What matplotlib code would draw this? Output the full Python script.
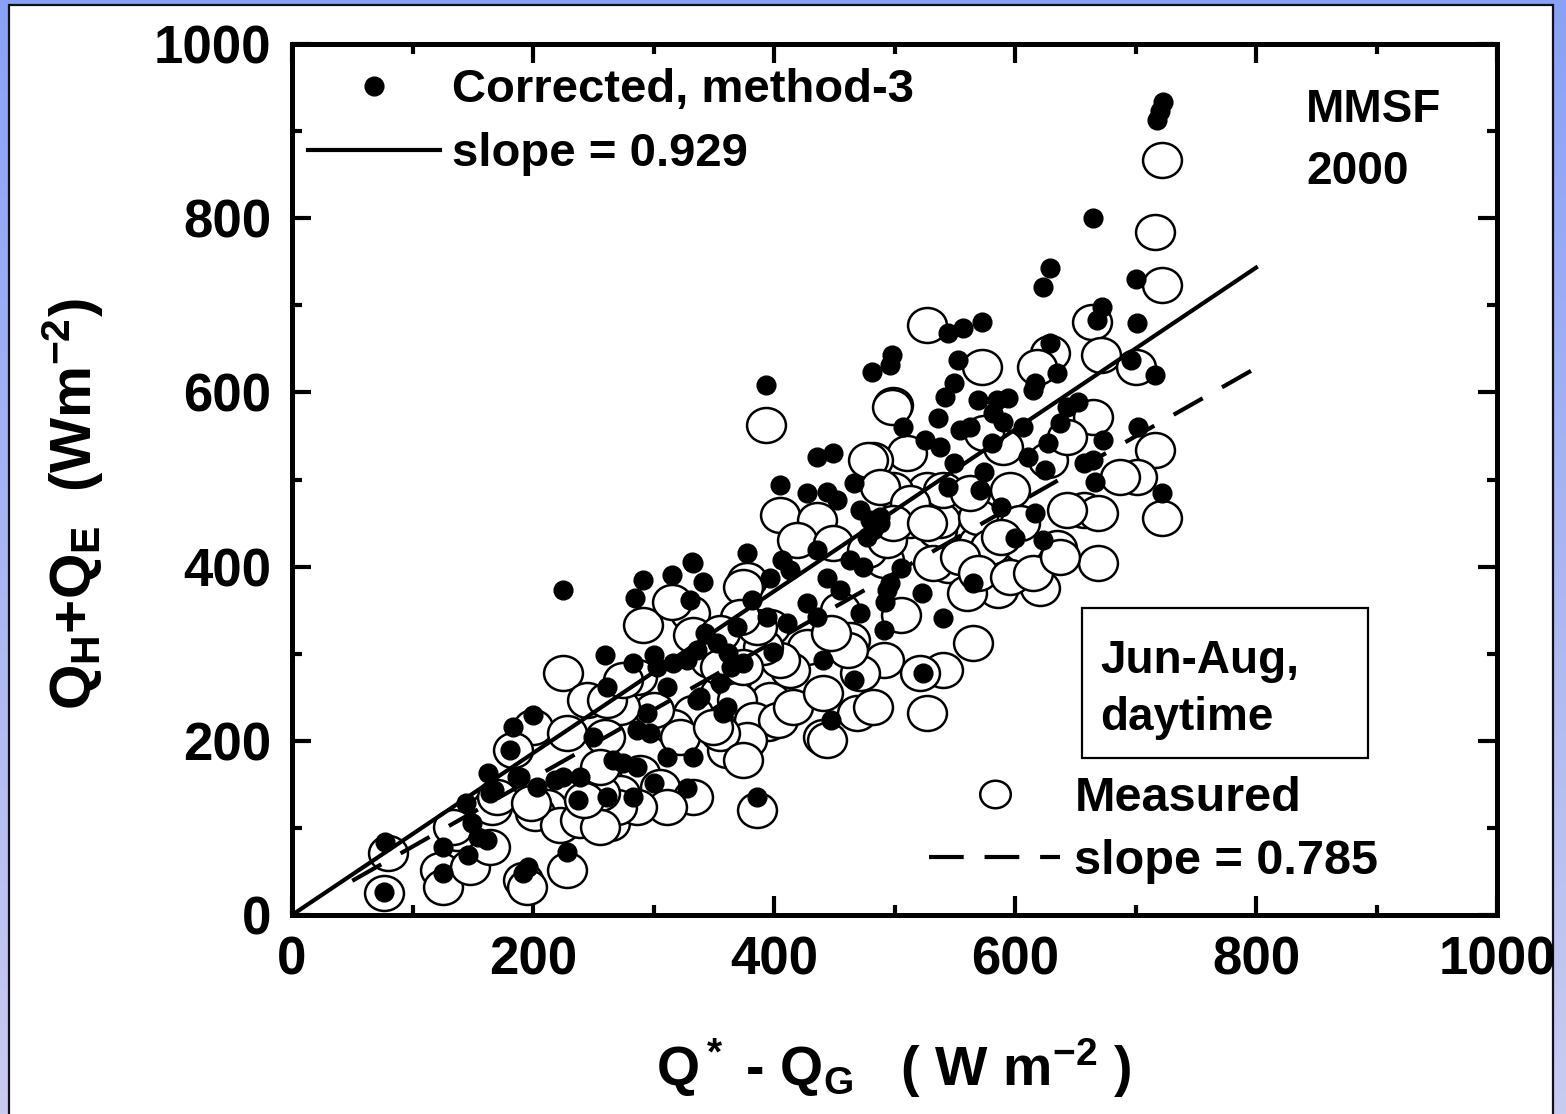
import numpy as np
import matplotlib
matplotlib.use("Agg")
import matplotlib.pyplot as plt
from matplotlib.path import Path
from matplotlib.transforms import Affine2D
from matplotlib.lines import Line2D
from matplotlib.patches import Rectangle

plt.rcParams['font.family'] = ['Liberation Sans', 'DejaVu Sans']
plt.rcParams['font.weight'] = 'bold'
plt.rcParams['mathtext.fontset'] = 'custom'
plt.rcParams['mathtext.rm'] = 'Liberation Sans:bold'
plt.rcParams['mathtext.bf'] = 'Liberation Sans:bold'
plt.rcParams['mathtext.it'] = 'Liberation Sans:bold'
plt.rcParams['lines.scale_dashes'] = False

# corrected (method-3) points, W m-2
corr_x = [723, 718, 720, 665, 629, 623, 700, 672, 668, 701,
          544, 557, 573, 629, 635, 617, 696, 716, 481, 498,
          496, 553, 507, 549, 542, 536, 525, 538, 569, 585,
          594, 582, 590, 554, 563, 549, 581, 607, 627, 611,
          643, 652, 637, 673, 702, 722, 665, 657, 666, 625,
          574, 571, 588, 617, 600, 623, 565, 544, 480, 488,
          477, 505, 496, 492, 523, 540, 615,
          393, 436, 449, 405, 427, 444, 452, 466, 471, 482,
          488, 378, 333, 341, 330, 407, 413, 436, 463, 474,
          397, 444, 455, 494, 382, 394, 427, 411, 436, 471,
          491, 524, 447, 441, 466, 364, 355, 339, 358, 328,
          336, 369, 353, 343,
          225, 260, 291, 285, 315, 332, 399, 183, 200, 181,
          261, 283, 300, 303, 316, 362, 374, 311, 336, 361,
          295, 286, 297, 311, 333, 300, 283, 328, 386,
          250, 266, 275, 286, 225, 239, 218, 203, 189, 163,
          164, 237, 261,
          77, 76, 125, 125, 144, 146, 149, 154, 162, 168,
          187, 228, 192, 196]
corr_y = [933, 913, 923, 800, 743, 721, 730, 698, 683, 680,
          668, 674, 681, 657, 622, 611, 637, 620, 623, 643,
          631, 637, 560, 611, 595, 571, 545, 537, 591, 591,
          594, 576, 566, 557, 560, 519, 542, 560, 542, 526,
          583, 589, 565, 545, 560, 484, 522, 519, 497, 511,
          509, 488, 468, 461, 433, 431, 381, 491, 453, 450,
          434, 398, 381, 359, 370, 341, 603,
          608, 526, 530, 494, 484, 486, 476, 496, 465, 442,
          457, 416, 404, 382, 362, 408, 396, 419, 408, 400,
          387, 387, 373, 373, 362, 342, 358, 335, 342, 347,
          327, 278, 224, 293, 270, 285, 266, 250, 232, 293,
          304, 331, 312, 324,
          373, 298, 385, 364, 390, 405, 302, 216, 230, 189,
          262, 289, 298, 285, 289, 301, 289, 262, 247, 239,
          232, 212, 209, 181, 181, 152, 135, 146, 135,
          204, 178, 174, 170, 158, 158, 155, 147, 158, 163,
          140, 132, 135,
          84, 26, 78, 48, 129, 69, 106, 90, 86, 143,
          158, 72, 48, 55]

# measured points, W m-2
meas_x = [722, 716, 722, 664, 573, 629, 618, 671, 700, 716,
          701, 722, 665, 657, 669, 669, 621, 586, 610, 635,
          527, 499, 510, 482, 596, 535, 544, 569, 527, 499,
          505, 607, 627, 643, 560,
          393, 498, 405, 436, 478, 419, 378, 491, 397, 427,
          491, 540, 565, 527, 469, 441, 397, 413, 355, 330,
          374, 455, 463,
          225, 291, 315, 333, 395, 361, 361, 333, 316, 300,
          286, 272, 260, 200, 183, 289, 305, 333, 386, 272,
          212,
          80, 76, 123, 125, 148, 164, 137, 166, 202, 222,
          239, 264, 192, 195, 228,
          449, 477, 494, 538, 569, 579, 560, 532, 513, 521,
          471, 461, 447, 405, 391, 386, 372, 355, 347, 364,
          369, 383, 403, 416, 441, 444, 482, 378, 355,
          355, 374, 322, 349, 374, 311, 286, 270, 256, 228,
          245, 261, 275, 170, 198, 134, 256, 256, 242,
          540, 563, 604, 588, 643, 687, 590, 574, 488, 513,
          499, 527, 554, 569, 596, 615, 637]
meas_y = [867, 784, 723, 681, 629, 645, 629, 643, 629, 534,
          503, 456, 572, 465, 461, 404, 375, 373, 416, 421,
          677, 585, 530, 522, 488, 442, 402, 427, 488, 488,
          344, 425, 522, 549, 480,
          563, 583, 459, 453, 522, 430, 385, 408, 331, 308,
          293, 281, 312, 232, 232, 204, 247, 281, 255, 347,
          377, 350, 316,
          278, 333, 359, 321, 220, 224, 189, 232, 216, 235,
          273, 239, 204, 216, 189, 163, 147, 135, 121, 140,
          124,
          71, 25, 52, 32, 55, 78, 94, 124, 117, 103,
          109, 106, 40, 32, 52,
          427, 419, 430, 453, 457, 422, 370, 404, 453, 278,
          278, 304, 324, 293, 308, 331, 342, 324, 293, 270,
          247, 224, 224, 239, 255, 201, 239, 201, 209,
          285, 285, 204, 216, 178, 124, 124, 124, 140, 209,
          247, 247, 270, 135, 129, 101, 101, 170, 132,
          488, 484, 450, 434, 465, 503, 537, 553, 491, 473,
          450, 450, 411, 393, 388, 393, 411]

fit_x = [0, 800]
slope_corr = 0.929
fit_meas_x = [50, 800]
slope_meas = 0.785

W, H = 1566, 1114
fig = plt.figure(figsize=(W / 100, H / 100), dpi=100)

# blue gradient frame around a white panel
bg = fig.add_axes([0, 0, 1, 1])
grad = np.linspace(0, 1, 256).reshape(-1, 1)
bg_cmap = matplotlib.colors.LinearSegmentedColormap.from_list('fr', ['#8aa2f6', '#c9cbf0'])
bg.imshow(grad, aspect='auto', cmap=bg_cmap, extent=[0, 1, 0, 1], origin='upper')
bg.add_patch(Rectangle((9 / W, -0.01), (1553 - 9) / W, (1108 + 12) / H,
                       facecolor='white', edgecolor='#101020', lw=1.6))
bg.set_xlim(0, 1)
bg.set_ylim(0, 1)
bg.axis('off')

ax = fig.add_axes([292 / W, 1 - 915 / H, (1497 - 292) / W, (915 - 44) / H])
ax.set_xlim(0, 1000)
ax.set_ylim(0, 1000)

ell = Path.unit_circle().transformed(Affine2D().scale(1.0, 0.9))
ax.plot(meas_x, meas_y, ls='none', marker=ell, ms=28, mfc='white', mec='black', mew=1.8, zorder=2)
ax.plot(corr_x, corr_y, ls='none', marker='o', ms=13.5, mfc='black', mec='black', zorder=3)
fx = np.array(fit_x)
ax.plot(fx, slope_corr * fx, color='black', lw=3, zorder=4)
fmx = np.array(fit_meas_x)
ax.plot(fmx, slope_meas * fmx, color='black', lw=3, dashes=(24, 16), zorder=4)

ax.set_xticks([0, 200, 400, 600, 800, 1000])
ax.set_yticks([0, 200, 400, 600, 800, 1000])
ax.set_xticks([100, 300, 500, 700, 900], minor=True)
ax.set_yticks([100, 300, 500, 700, 900], minor=True)
ax.tick_params(which='both', direction='in', top=True, right=True, width=3)
ax.tick_params(which='major', length=14, labelsize=38, pad=15)
ax.tick_params(which='minor', length=7)
for lab in ax.get_xticklabels() + ax.get_yticklabels():
    lab.set_fontweight('bold')
for sp in ax.spines.values():
    sp.set_linewidth(3.6)

# legends
h1 = [Line2D([], [], ls='none', marker='o', ms=13.5, color='black'),
      Line2D([], [], color='black', lw=3)]
leg1 = ax.legend(h1, ['Corrected, method-3', 'slope = 0.929'], loc='upper left',
                 bbox_to_anchor=(0.013, 0.972), frameon=False, fontsize=34,
                 handlelength=2.8, handletextpad=0.25, labelspacing=0.42,
                 borderaxespad=0.0, borderpad=0.0)
ax.add_artist(leg1)
h2 = [Line2D([], [], ls='none', marker=ell, ms=22, mfc='white', mec='black', mew=1.8),
      Line2D([], [], color='black', lw=3, dashes=(25, 15))]
ax.legend(h2, ['Measured', 'slope = 0.785'], loc='upper left',
          bbox_to_anchor=(0.529, 0.16), frameon=False, fontsize=35,
          handlelength=2.68, handletextpad=0.3, labelspacing=0.38,
          borderaxespad=0.0, borderpad=0.0)

ax.text(0.841, 0.924, 'MMSF', transform=ax.transAxes, fontsize=33,
        fontweight='bold', ha='left', va='center')
ax.text(0.842, 0.853, '2000', transform=ax.transAxes, fontsize=33,
        fontweight='bold', ha='left', va='center')

ax.add_patch(Rectangle((0.656, 0.180), 0.237, 0.172, transform=ax.transAxes,
                       facecolor='white', edgecolor='black', lw=1.6, zorder=5))
ax.text(0.671, 0.259, 'Jun-Aug,\ndaytime', transform=ax.transAxes, fontsize=33,
        fontweight='bold', ha='left', va='center', linespacing=1.4, zorder=6)

fig.text(0.047, 0.547, r'Q$_H$+Q$_E$  (Wm$^{-2}$)', rotation=90,
         ha='center', va='center', fontsize=42)
fig.text(0.571, 0.041, r'Q$^*$ - Q$_G$   ( W m$^{-2}$ )',
         ha='center', va='center', fontsize=40)

fig.savefig('out.png', dpi=100)
